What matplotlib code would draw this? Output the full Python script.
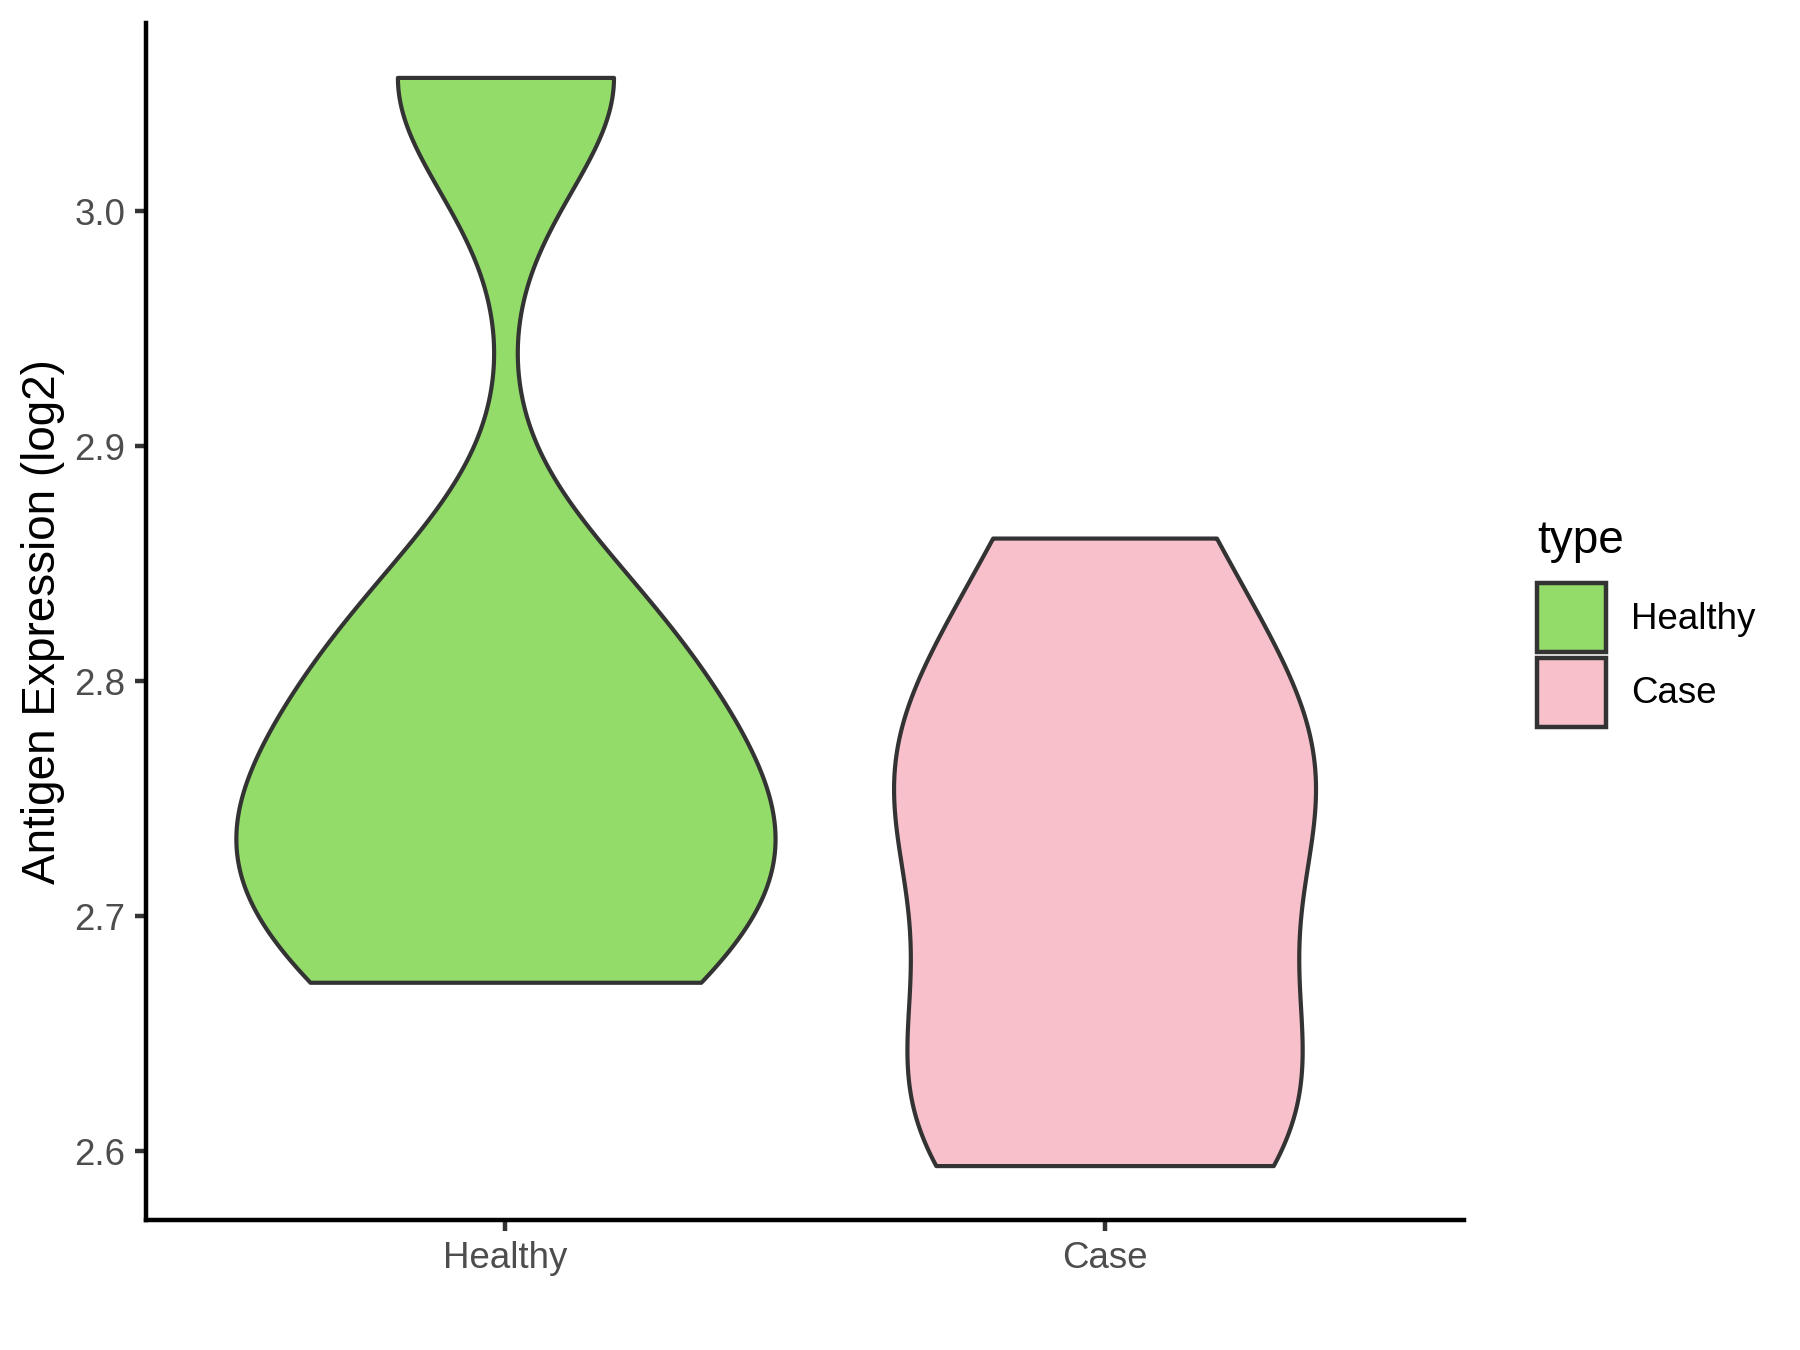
import numpy as np
import matplotlib
matplotlib.use("Agg")
import matplotlib.pyplot as plt
from matplotlib import mlab
from matplotlib.patches import Patch

plt.rcParams['font.family'] = ['Liberation Sans', 'DejaVu Sans']

# data (log2 antigen expression per sample)
groups = ['Healthy', 'Case']
healthy = [2.672, 2.722, 2.758, 2.822, 3.057]
case = [2.594, 2.618, 2.648, 2.735, 2.762, 2.782, 2.861]
colors = ['#93DC6A', '#F7C0CB']
ylabel = 'Antigen Expression (log2)'
yticks = [2.6, 2.7, 2.8, 2.9, 3.0]


def nrd0(x):
    # bandwidth rule used by R's density()
    x = np.asarray(x)
    sd = np.std(x, ddof=1)
    iqr = np.subtract(*np.percentile(x, [75, 25])) / 1.34
    return 0.9 * min(sd, iqr) * len(x) ** -0.2


def bw_factor(kde):
    x = kde.dataset.ravel()
    return nrd0(x) / np.std(x, ddof=1)


data = [healthy, case]

# ggplot scale="area": widths follow the peak density of each group
peaks = []
for d in data:
    kde = mlab.GaussianKDE(d, bw_method=bw_factor)
    peaks.append(kde.evaluate(np.linspace(min(d), max(d), 512)).max())
widths = [0.9 * p / max(peaks) for p in peaks]

fig = plt.figure(figsize=(6, 4.5), dpi=300)
ax = fig.add_axes([146 / 1800, 130 / 1350, 1318 / 1800, 1197 / 1350])

parts = ax.violinplot(data, positions=[1, 2], widths=widths, points=512,
                      bw_method=bw_factor, showextrema=False)
for body, c in zip(parts['bodies'], colors):
    body.set_facecolor(c)
    body.set_edgecolor('#333333')
    body.set_linewidth(1.0)
    body.set_alpha(1)

lo = min(min(d) for d in data)
hi = max(max(d) for d in data)
pad = (hi - lo) * 0.05
ax.set_ylim(lo - pad, hi + pad)
ax.set_xlim(0.4, 2.6)
ax.set_xticks([1, 2])
ax.set_xticklabels(groups)
ax.set_yticks(yticks)
ax.set_yticklabels([f'{t:.1f}' for t in yticks])
ax.set_ylabel(ylabel, fontsize=11, labelpad=2.2)

for s in ['top', 'right']:
    ax.spines[s].set_visible(False)
for s in ['left', 'bottom']:
    ax.spines[s].set_linewidth(1.07)
    ax.spines[s].set_color('black')
ax.tick_params(length=2.75, width=1.07, color='#333333', labelcolor='#4D4D4D',
               labelsize=8.8, pad=2.2)

# legend
fig.text(1537 / 1800, 1 - 553 / 1350, 'type', fontsize=11, va='baseline', ha='left')
handles = [Patch(facecolor=c, edgecolor='#333333', linewidth=1.07) for c in colors]
leg = fig.legend(handles, groups, loc='upper left',
                 bbox_to_anchor=(1537 / 1800, 1 - 583 / 1350), frameon=False,
                 fontsize=8.8, handlelength=1.88, handleheight=2.515,
                 labelspacing=0.16, handletextpad=0.68,
                 borderaxespad=0, borderpad=0)

plt.savefig('out.png', dpi=300)
